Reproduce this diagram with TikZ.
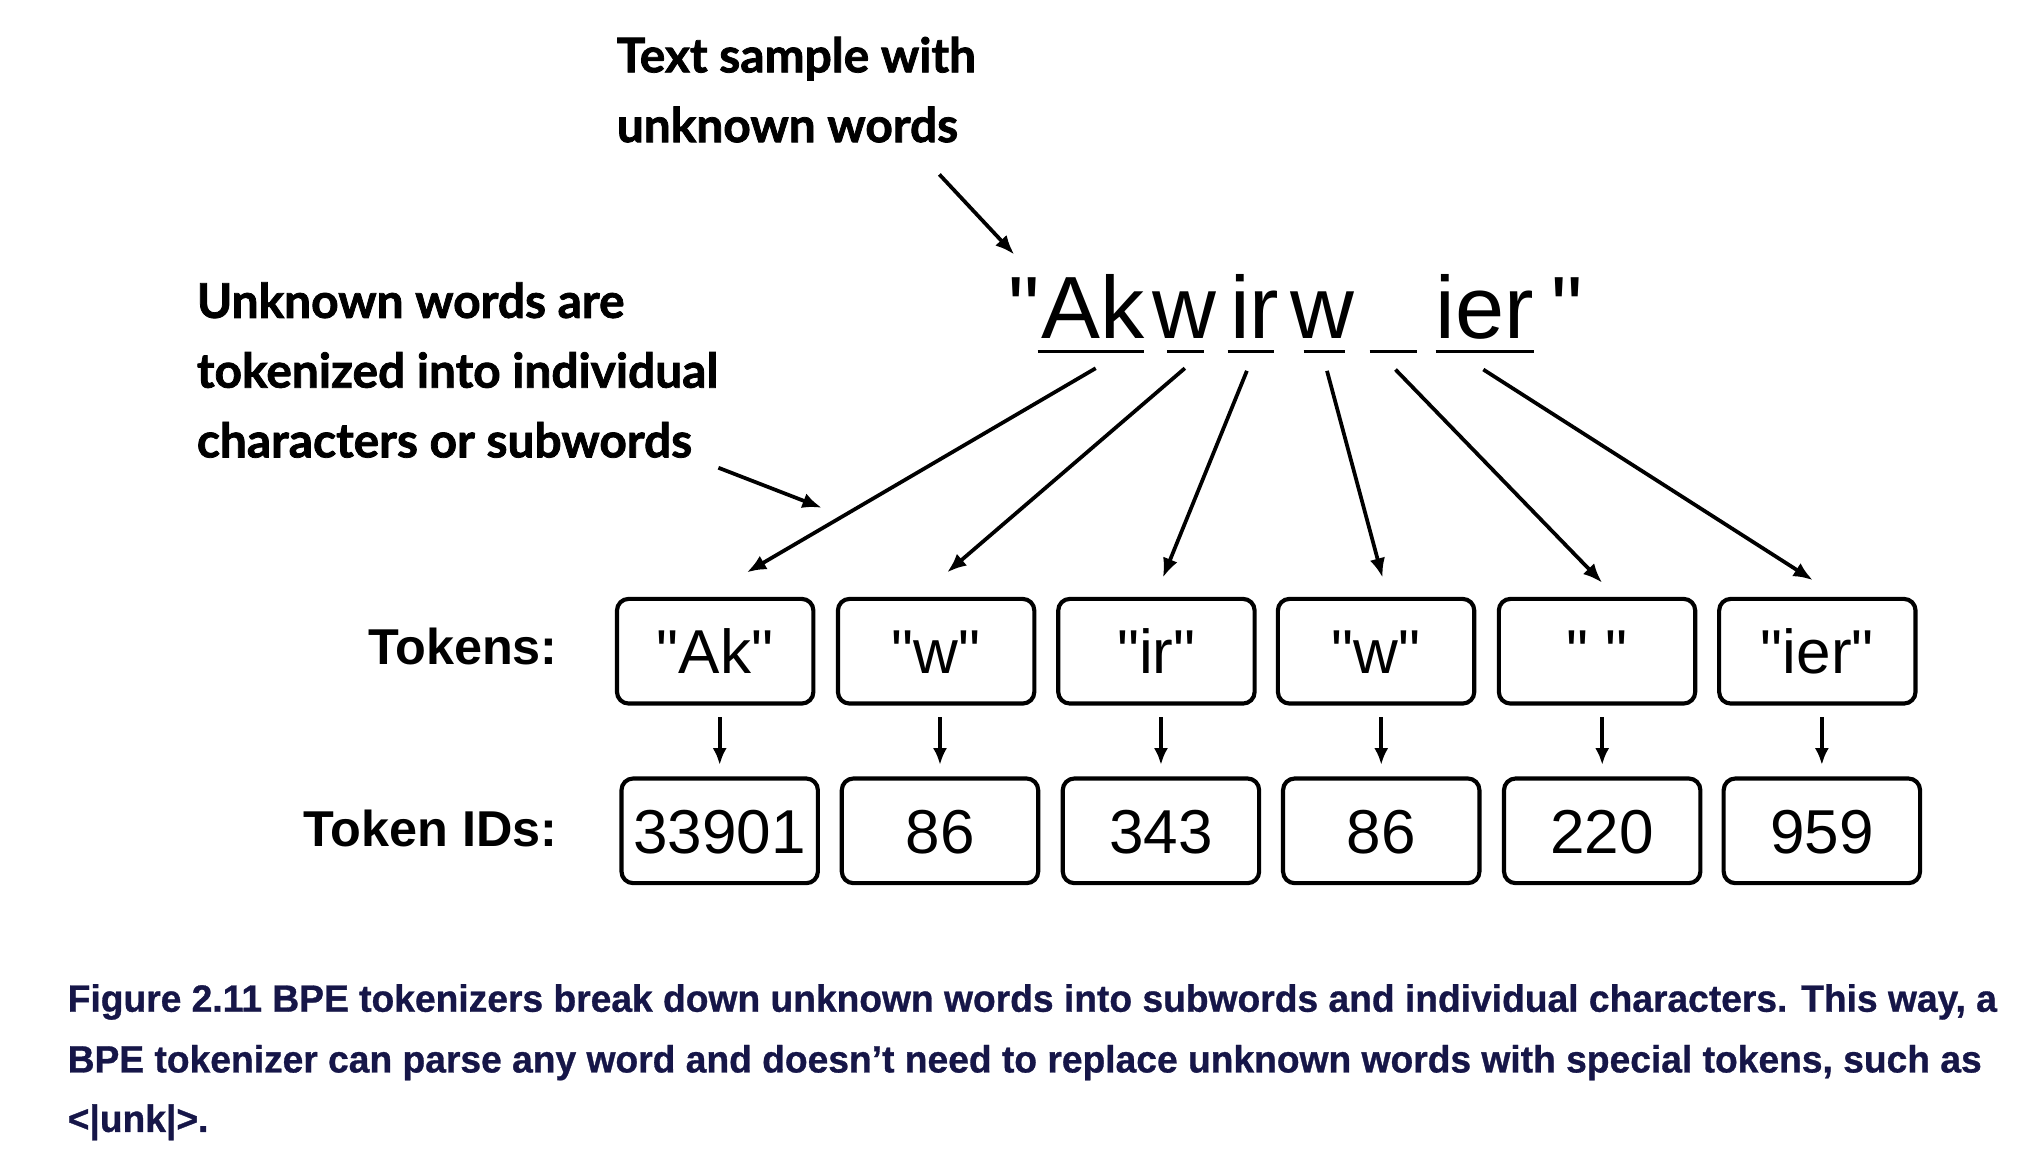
\documentclass[tikz,border=0pt]{standalone}
\usepackage{graphicx}
\usepackage{fontspec}
\setmainfont{Liberation Sans}
\newfontfamily\dfont{Liberation Sans}
\newfontfamily\capfont{Liberation Sans}[Ligatures=TeX, BoldFeatures={FakeBold=0.8}]
\newfontfamily\annfont{Lato}[BoldFeatures={FakeBold=1.6}]
\usetikzlibrary{arrows.meta,calc}
\definecolor{capcol}{RGB}{22,22,72}
\newsavebox\capboxA
\newlength\capwA
\begin{document}
\sbox\capboxA{\capfont\bfseries\fontsize{14.7}{18}\selectfont Figure 2.11 BPE tokenizers break down unknown words into subwords and individual characters. This way, a}%
\setlength\capwA{\wd\capboxA}%
\pgfmathsetmacro\capsc{746.5pt/\capwA}%
\begin{tikzpicture}[x=0.5pt,y=-0.5pt,
  ann/.style={font=\annfont\bfseries\fontsize{18.5}{27}\selectfont, align=left, anchor=base west, inner sep=0pt},
  big/.style={font=\dfont\fontsize{34.2}{40}\selectfont, anchor=base, inner sep=0pt},
  tokbox/.style={draw, line width=1.6pt, rounded corners=4.5pt, minimum width=76pt, minimum height=40.5pt, inner sep=0pt, font=\dfont\fontsize{24}{28}\selectfont, text height=17.2pt, text depth=0pt},
  lbl/.style={font=\dfont\bfseries\fontsize{19.5}{24}\selectfont, anchor=base east, inner sep=0pt},
  uline/.style={line width=1.5pt},
  arr/.style={-{Latex[length=7.5pt,width=6pt]}, line width=1.45pt},
  sarr/.style={-{Latex[length=6.5pt,width=5.5pt]}, line width=1.4pt, shorten <=4.5pt, shorten >=4.5pt},
  captext/.style={font=\capfont\bfseries\fontsize{14.7}{18}\selectfont, text=capcol, anchor=base west, inner sep=0pt}
]
\path[use as bounding box, fill=white] (0,0) rectangle (1568,895);

% annotations
\node[ann] (txtsample) at (477,110) {Text sample with\\unknown words};
\node[ann] (unknown) at (152,354) {Unknown words are\\tokenized into individual\\characters or subwords};

% sample text
\node[big] (q1) at (792.5,262) {"};
\node[big] (sAk) at (846,262) {Ak};
\node[big] (sw1) at (917,262) {w};
\node[big] (sir) at (971,262) {ir};
\node[big] (sw2) at (1023.5,262) {w};
\node[big] (sier) at (1149,262) {ier};
\node[big] (q2) at (1213,262) {"};

% underlines
\draw[uline] (803,272) -- (885,272);
\draw[uline] (903,272) -- (932,272);
\draw[uline] (950,272) -- (986,272);
\draw[uline] (1009,272) -- (1041,272);
\draw[uline] (1060,272) -- (1097,272);
\draw[uline] (1111,272) -- (1187,272);

% arrow coordinates
\coordinate (ss1) at (848,285);
\coordinate (ss2) at (917,285);
\coordinate (ss3) at (965,287);
\coordinate (ss4) at (1027,287);
\coordinate (ss5) at (1080,286);
\coordinate (ss6) at (1148,286);
\coordinate (ee1) at (578,443);
\coordinate (ee2) at (733,443);
\coordinate (ee3) at (900,447);
\coordinate (ee4) at (1070,447);
\coordinate (ee5) at (1240,451);
\coordinate (ee6) at (1403,449);
\coordinate (ta1) at (727,135);
\coordinate (ta2) at (785,197);
\coordinate (ua1) at (556,362);
\coordinate (ua2) at (636,393);

\foreach \i in {1,...,6} { \draw[arr] (ss\i) -- (ee\i); }
\draw[arr] (ta1) -- (ta2);
\draw[arr] (ua1) -- (ua2);

% labels
\node[lbl] (ltok) at (432,514) {Tokens:};
\node[lbl] (lid) at (432,655) {Token IDs:};

% token boxes
\node[tokbox] (t1) at (553.5,504) {"Ak"};
\node[tokbox] (t2) at (724.5,504) {"w"};
\node[tokbox] (t3) at (895,504) {"ir"};
\node[tokbox] (t4) at (1065,504) {"w"};
\node[tokbox] (t5) at (1236,504) {" "};
\node[tokbox] (t6) at (1406.5,504) {"ier"};

% id boxes
\node[tokbox] (d1) at (557,643) {33901};
\node[tokbox] (d2) at (727.5,643) {86};
\node[tokbox] (d3) at (898.5,643) {343};
\node[tokbox] (d4) at (1069,643) {86};
\node[tokbox] (d5) at (1240,643) {220};
\node[tokbox] (d6) at (1410,643) {959};

\foreach \i in {1,...,6} { \draw[sarr] (t\i.south -| d\i.north) -- (d\i.north); }

% caption
\node[captext] (cap1) at (52,783) {\scalebox{\capsc}[1]{Figure 2.11 BPE tokenizers break down unknown words into subwords and individual characters. This way, a}};
\node[captext] (cap2) at (52,830) {\scalebox{\capsc}[1]{BPE tokenizer can parse any word and doesn't need to replace unknown words with special tokens, such as}};
\node[captext] (cap3) at (52,876) {\scalebox{\capsc}[1]{<|unk|>.}};
\end{tikzpicture}
\end{document}
